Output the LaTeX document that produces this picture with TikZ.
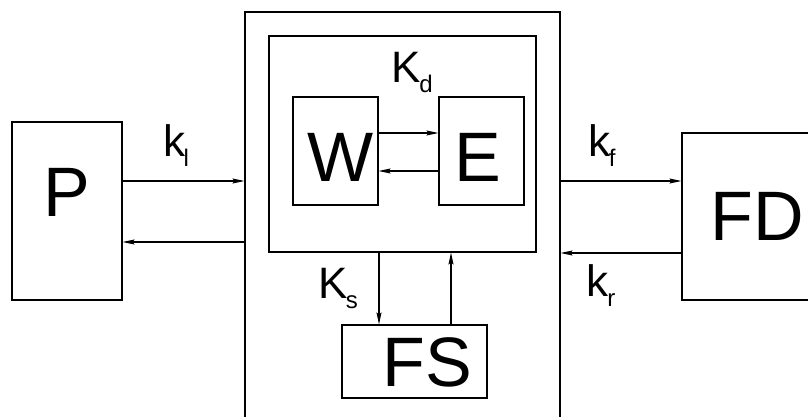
\documentclass[tikz,border=0pt]{standalone}
\usepackage{fontspec}
\setmainfont{Liberation Sans}
\usetikzlibrary{arrows.meta}
\newcommand\sbs[1]{\kern-1.5pt\raisebox{-10pt}{\fontsize{24}{24}\selectfont #1}}
\tikzset{
  blk/.style={draw, line width=1.1pt, inner sep=0pt, fill=none},
  big/.style={font=\fontsize{70}{70}\selectfont, inner sep=0pt},
  lbl/.style={font=\fontsize{44}{44}\selectfont, inner sep=0pt},
  arr/.style={line width=1.1pt, -{Stealth[length=12pt,width=5pt,inset=2pt]}},
}
\begin{document}
\begin{tikzpicture}[x=1pt,y=-1pt]
\useasboundingbox (0,0) rectangle (808,417);
\clip (0,0) rectangle (808,417);
% boxes
\node[blk, minimum width=110pt, minimum height=178pt] (P) at (67,211) {};
\node[big] (Pt) at (67,192) {P};
\node[blk, minimum width=315pt, minimum height=420pt] (M) at (402.5,222) {};
\node[blk, minimum width=267pt, minimum height=216pt] (Kd) at (402.5,144) {};
\node[blk, minimum width=85pt, minimum height=108pt] (W) at (335.5,151) {};
\node[big] (Wt) at (341,157) {W};
\node[blk, minimum width=85pt, minimum height=108pt] (E) at (481.5,151) {};
\node[big] (Et) at (478,157) {E};
\node[blk, minimum width=145pt, minimum height=73pt] (FS) at (414.5,361.5) {};
\node[big] (FSt) at (427,362) {FS};
\node[blk, minimum width=140pt, minimum height=167pt] (FD) at (752,216.5) {};
\node[big] (FDt) at (757,216) {FD};
% labels
\node[lbl] (kl) at (176,146) {k\sbs{l}};
\node[lbl] (Kdl) at (412,72) {K\sbs{d}};
\node[lbl] (Ksl) at (338,288) {K\sbs{s}};
\node[lbl] (kfl) at (602,146) {k\sbs{f}};
\node[lbl] (krl) at (601,286) {k\sbs{r}};
% connectors
\draw[arr] (P.east |- 0,181) -- (M.west |- 0,181);
\draw[arr] (M.west |- 0,242) -- (P.east |- 0,242);
\draw[arr] (W.east |- 0,133) -- (E.west |- 0,133);
\draw[arr] (E.west |- 0,171) -- (W.east |- 0,171);
\draw[arr] (Kd.south -| 379,0) -- (FS.north -| 379,0);
\draw[arr] (FS.north -| 451,0) -- (Kd.south -| 451,0);
\draw[arr] (M.east |- 0,181) -- (FD.west |- 0,181);
\draw[arr] (FD.west |- 0,253) -- (M.east |- 0,253);
\end{tikzpicture}
\end{document}
